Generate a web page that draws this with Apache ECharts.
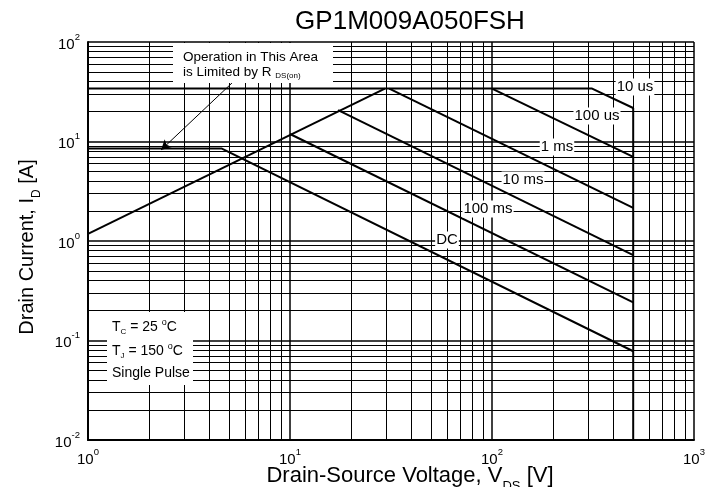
<!DOCTYPE html>
<html><head><meta charset="utf-8">
<script src="https://cdn.jsdelivr.net/npm/echarts@6/dist/echarts.min.js"></script>
<style>html,body{margin:0;padding:0;background:#fff}#c{width:721px;height:487px}</style>
</head><body><div id="c"></div>
<script>
// ---- data ----
const chartTitle = 'GP1M009A050FSH';
const xMinorGrid = [2,3,4,5,6,7,8,9,20,30,40,50,60,70,80,90,200,300,400,500,600,700,800,900];
const yMinorGrid = [0.02,0.03,0.04,0.05,0.06,0.07,0.08,0.09,0.2,0.3,0.4,0.5,0.6,0.7,0.8,0.9,2,3,4,5,6,7,8,9,20,30,40,50,60,70,80,90];
const rdsOnLimit = [[1,1.18],[29.5,34]];
const pulse10us = [[1,34],[313,34],[500,21.7]];
const pulse100us = [[100,34],[500,7.0]];
const pulse1ms = [[31,34],[500,2.15]];
const pulse10ms = [[17.3,20.7],[500,0.72]];
const pulse100ms = [[10,11.9],[500,0.242]];
const dcLine = [[1,8.5],[4.6,8.5],[500,0.078]];
const bvdssLine = [[500,21.7],[500,0.01]];
const arrowLine = [[5.16,38.7],[2.30,8.22]];
const curveLabels = ['10 us','100 us','1 ms','10 ms','100 ms','DC'];

const FF = "'Liberation Sans', Arial, Helvetica, sans-serif";
const chart = echarts.init(document.getElementById('c'), null, {renderer:'canvas'});

function supLabel(v){
  const e = Math.round(Math.log10(v));
  return '{b|10}{s|' + e + '}';
}
const tickRich = {
  b:{fontSize:15, fontFamily:FF, color:'#000', lineHeight:20, verticalAlign:'bottom'},
  s:{fontSize:9.5, fontFamily:FF, color:'#000', lineHeight:11, verticalAlign:'top'}
};
const nameRich = (fs) => ({
  b:{fontSize:fs, fontFamily:FF, fill:'#000', lineHeight:fs+4, verticalAlign:'middle'},
  sub:{fontSize:Math.round(fs*0.6), fontFamily:FF, fill:'#000', lineHeight:12, verticalAlign:'bottom', padding:[0,0,-4,0]}
});

function curve(data){
  return {type:'line', data:data, symbol:'none', silent:true, z:5,
    lineStyle:{color:'#000', width:2}, animation:false};
}
const labelPos = [[635,87],[597,116],[557,147],[523,180],[488,209],[447,240]];

const option = {
  animation:false,
  backgroundColor:'#fff',
  grid:{left:88, right:27, top:42, bottom:47, containLabel:false, outerBoundsMode:'none'},
  xAxis:{
    type:'log', logBase:10, min:1, max:1000,
    axisLine:{show:true, lineStyle:{color:'#000', width:2}},
    axisTick:{show:false},
    axisLabel:{formatter:supLabel, rich:tickRich, margin:7},
    splitLine:{show:true, lineStyle:{color:'#000', width:1.5}}
  },
  yAxis:{
    type:'log', logBase:10, min:0.01, max:100,
    axisLine:{show:true, lineStyle:{color:'#000', width:2}},
    axisTick:{show:false},
    axisLabel:{formatter:supLabel, rich:tickRich, margin:8},
    splitLine:{show:true, lineStyle:{color:'#000', width:1.5}}
  },
  series:[
    {type:'line', data:[], silent:true, z:1,
      markLine:{silent:true, symbol:'none', animation:false, label:{show:false},
        lineStyle:{color:'#000', width:1, type:'solid'},
        data: xMinorGrid.map(v=>({xAxis:v})).concat(yMinorGrid.map(v=>({yAxis:v})))}
    },
    curve(rdsOnLimit), curve(pulse10us), curve(pulse100us), curve(pulse1ms),
    curve(pulse10ms), curve(pulse100ms), curve(dcLine), curve(bvdssLine),
    {type:'line', data:[], silent:true, z:6,
      markLine:{silent:true, animation:false, symbol:['none','arrow'], symbolSize:[8,10], label:{show:false},
        lineStyle:{color:'#000', width:1, type:'solid'},
        data:[[{coord:arrowLine[0]},{coord:arrowLine[1]}]]}
    }
  ],
  graphic:[
    {type:'text', z:100, x:410, y:22, style:{text:chartTitle, align:'center', verticalAlign:'middle',
      font:'26px '+FF, fill:'#000'}},
    {type:'text', z:100, x:410, y:476, style:{text:'{b|Drain-Source Voltage, V}{sub|DS}{b| [V]}',
      align:'center', verticalAlign:'middle', rich:nameRich(22)}},
    {type:'text', z:100, x:27, y:247, rotation:Math.PI/2, style:{text:'{b|Drain Current, I}{sub|D}{b| [A]}',
      align:'center', verticalAlign:'middle', rich:nameRich(20)}},
    {type:'rect', z:90, shape:{x:173, y:43, width:160, height:40}, style:{fill:'#fff'}},
    {type:'text', z:100, x:183, y:57, style:{text:'Operation in This Area', verticalAlign:'middle',
      font:'13.5px '+FF, fill:'#000'}},
    {type:'text', z:100, x:183, y:72, style:{text:'{a|is Limited by R }{s|DS(on)}', verticalAlign:'middle',
      font:'13.5px '+FF, fill:'#000',
      rich:{a:{fontSize:13.5, fontFamily:FF, fill:'#000', lineHeight:16, verticalAlign:'middle'},
            s:{fontSize:8, fontFamily:FF, fill:'#000', lineHeight:9, verticalAlign:'bottom'}}}},
    {type:'rect', z:90, shape:{x:107, y:312, width:86, height:73}, style:{fill:'#fff'}},
    {type:'text', z:100, x:112, y:327, style:{text:'{a|T}{s|C}{a| = 25 }{p|o}{a|C}', verticalAlign:'middle',
      rich:{a:{fontSize:14, fontFamily:FF, fill:'#000', lineHeight:18, verticalAlign:'middle'},
            s:{fontSize:8, fontFamily:FF, fill:'#000', lineHeight:9, verticalAlign:'bottom'},
            p:{fontSize:9, fontFamily:FF, fill:'#000', lineHeight:10, verticalAlign:'top'}}}},
    {type:'text', z:100, x:112, y:351, style:{text:'{a|T}{s|J}{a| = 150 }{p|o}{a|C}', verticalAlign:'middle',
      rich:{a:{fontSize:14, fontFamily:FF, fill:'#000', lineHeight:18, verticalAlign:'middle'},
            s:{fontSize:8, fontFamily:FF, fill:'#000', lineHeight:9, verticalAlign:'bottom'},
            p:{fontSize:9, fontFamily:FF, fill:'#000', lineHeight:10, verticalAlign:'top'}}}},
    {type:'text', z:100, x:112, y:373, style:{text:'Single Pulse', verticalAlign:'middle',
      font:'14px '+FF, fill:'#000'}}
  ].concat(curveLabels.map((t,i)=>({type:'text', z:100, x:labelPos[i][0], y:labelPos[i][1],
      style:{text:t, align:'center', verticalAlign:'middle', font:'15px '+FF, fill:'#000',
        backgroundColor:'#fff', padding:[1,1,1,1]}})))
};
chart.setOption(option);
</script></body></html>
